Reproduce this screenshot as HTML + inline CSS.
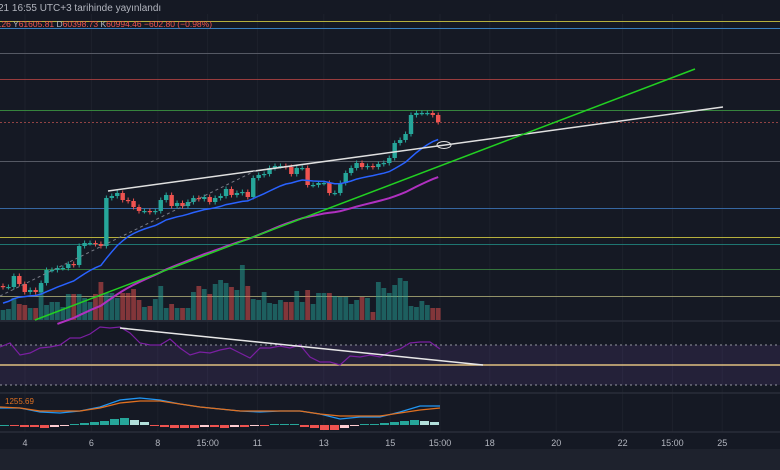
<!DOCTYPE html>
<html><head><meta charset="utf-8"><style>
html,body{margin:0;padding:0;background:#151924;width:780px;height:470px;overflow:hidden;font-family:"Liberation Sans","DejaVu Sans",sans-serif}
svg{display:block}
</style></head><body>
<svg id="chart" width="780" height="470" viewBox="0 0 780 470" xmlns="http://www.w3.org/2000/svg">
<rect x="0" y="0" width="780" height="470" fill="#151924"/>
<rect x="0" y="449" width="780" height="21" fill="#1e222d"/>
<g id="grid"></g>
<g id="hlines"></g>
<g id="volume"></g>
<g id="candles"></g>
<g id="mas"></g>
<g id="draw"></g>
<g id="rsi"></g>
<g id="macd"></g>
<g id="xaxis"></g>
<text x="-2" y="11" font-size="10" fill="#b2b5be">21 16:55 UTC+3 tarihinde yayınlandı</text>
<text x="-1" y="27" font-size="8.5" fill="#ef5350">.26 <tspan fill="#b2b5be">Y</tspan>61605.81 <tspan fill="#b2b5be">D</tspan>60398.73 <tspan fill="#b2b5be">K</tspan>60994.46 −602.80 (−0.98%)</text>
<text x="5" y="404" font-size="8" fill="#e07020">1255.69</text>
</svg>
<script>
const closes=[44300,44300,45400,44600,43800,44000,43800,44700,46000,46000,46200,46200,46600,46500,48400,48700,48700,48600,48400,53200,53400,53700,53000,52900,52300,51900,51900,51800,51900,53000,53500,52400,52700,52400,52800,53200,53100,53300,52800,53200,53400,54100,53500,53700,53800,53300,55200,55500,55600,56200,56400,56400,56300,55600,56200,56200,54500,54500,54700,54700,53700,53700,54700,55700,56200,56700,56300,56400,56300,56600,56700,57200,58700,59000,59600,61500,61700,61700,61700,61500,60800];
const volumes=[10,11,22,16,15,12,12,35,15,18,18,13,26,26,26,22,18,26,38,27,27,22,27,27,31,20,13,14,21,34,12,16,12,12,12,28,34,31,26,36,40,37,33,30,55,34,21,20,28,17,16,20,18,18,29,18,30,16,27,27,27,24,23,23,16,20,23,22,8,38,32,27,35,42,39,14,13,19,15,12,12];
const rsiVals=[68,72,60,62,67,68,70,77,77,81,88,87,88,82,72,70,70,76,67,60,63,62,65,67,62,57,67,67,69,67,70,58,53,53,50,59,58,60,58,63,66,72,73,73,66];
const macdLine=[17,17,13,12,14,18,25,27,25,21,18,16,14,13,14,14,11,6,8,8,13,19,19];
const signalLine=[18,17,14,14,14,17,22,24,24,21,18,16,14,14,14,14,11,9,9,9,12,15,17];
const macdHist=[0,-1,-2,-2,-3,-2,-1,1,2,3,4,6,7,5,3,-1,-2,-3,-3,-3,-2,-2,-3,-2,-2,-1,-1,1,1,1,-2,-3,-5,-5,-3,-1,1,1,2,3,4,5,4,3];
const dayLabels=["4","6","8","15:00","11","13","15","15:00","18","20","22","15:00","25"];
const dayPos=[0,2,4,5.5,7,9,11,12.5,14,16,18,19.5,21];
const levelPrices=[70900,70200,67700,65100,62000,60800,56900,52200,49300,48600,46100,43400];
const levelColors=["#c8c040","#3a8ad0","#5d606b","#a84040","#3a9040","#a04848","#5d606b","#3a70b0","#c8c040","#20807a","#3a8040","#a0a070"];

const NS="http://www.w3.org/2000/svg";
function el(tag,attrs,parent){const e=document.createElementNS(NS,tag);for(const k in attrs)e.setAttribute(k,attrs[k]);parent.appendChild(e);return e;}
const priceY=p=>(73000-p)/100;
const candleX=i=>3+i*5.44;
const dayX=d=>25+d*33.2;
const rsiY=v=>365-(v-50);
const macdY=v=>425-v;

// grid
const g=document.getElementById('grid');
[0,2,4,5.5,7,9,11,12.5,14,16,18,19.5,21].forEach(d=>{const l=el('line',{x1:dayX(d),x2:dayX(d),y1:14,y2:432,stroke:'#1d212c','stroke-width':1},g);

});
[[321,'#2a2e39'],[393,'#2a2e39'],[432,'#2a2e39']].forEach(a=>{const l=el('line',{x1:0,x2:780,y1:a[0],y2:a[0],stroke:a[1],'stroke-width':1.5},g);

});

// horizontal levels
const h=document.getElementById('hlines');
levelPrices.forEach((p,i)=>{const a={x1:0,x2:780,y1:priceY(p)+0.5,y2:priceY(p)+0.5,stroke:levelColors[i],'stroke-width':1,opacity:0.9};if(i===5){a['stroke-dasharray']='2,2';}
const l=el('line',a,h);

});

// volume
const v=document.getElementById('volume');
volumes.forEach((vol,i)=>{const o=i?closes[i-1]:closes[0];const up=closes[i]>=o;const r=el('rect',{x:candleX(i)-2.4,y:320-vol,width:4.8,height:vol,fill:up?'#26a69a':'#ef5350',opacity:0.5},v);

});

// candles
const c=document.getElementById('candles');
closes.forEach((cl,i)=>{const o=i?closes[i-1]:closes[0]+100;const up=cl>=o;const col=up?'#26a69a':'#ef5350';const x=candleX(i);
const hi=Math.max(o,cl)+250,lo=Math.min(o,cl)-250;
const w=el('line',{x1:x,x2:x,y1:priceY(hi),y2:priceY(lo),stroke:col,'stroke-width':1},c);


const top=priceY(Math.max(o,cl));const bh=Math.max(1.2,Math.abs(priceY(o)-priceY(cl)));
const b=el('rect',{x:x-2.2,y:top,width:4.4,height:bh,fill:col},c);

});

// moving averages
const m=document.getElementById('mas');
function ema(arr,n,seed){const a=2/(n+1);let e=seed;return arr.map(x=>(e=e+a*(x-e)));}
const ema1=ema(closes,18,42500),ema2=ema(closes,55,38500);
function pathFrom(vals,fx,fy){return vals.map((val,i)=>(i?'L':'M')+fx(i).toFixed(1)+' '+fy(val).toFixed(1)).join(' ');}
const p1=el('path',{d:pathFrom(ema1,candleX,priceY),fill:'none',stroke:'#2962ff','stroke-width':1.5},m);


const e2=ema2.slice(10);
const p2=el('path',{d:pathFrom(e2,i=>candleX(i+10),priceY),fill:'none',stroke:'#b030c0','stroke-width':2},m);



// drawings
const dr=document.getElementById('draw');
const t1=el('line',{x1:108,y1:191,x2:723,y2:107,stroke:'#e0e0e0','stroke-width':1.5},dr);


const t2=el('line',{x1:35,y1:320,x2:695,y2:69,stroke:'#22d022','stroke-width':1.5},dr);


const t3=el('line',{x1:0,y1:296,x2:257,y2:170,stroke:'#787b86','stroke-width':1,'stroke-dasharray':'3,3'},dr);


const t4=el('ellipse',{cx:444,cy:145,rx:7,ry:3.5,fill:'none',stroke:'#e0e0e0','stroke-width':1},dr);



// RSI
const r=document.getElementById('rsi');
const band=el('rect',{x:0,y:rsiY(70),width:780,height:rsiY(30)-rsiY(70),fill:'#7e57c2','fill-opacity':0.14},r);


[70,30].forEach(lv=>{const l=el('line',{x1:0,x2:780,y1:rsiY(lv),y2:rsiY(lv),stroke:'#9598a1','stroke-width':1,'stroke-dasharray':'2,3'},r);

});
const mid=el('line',{x1:0,x2:780,y1:rsiY(50),y2:rsiY(50),stroke:'#e0c080','stroke-width':1.5},r);


const rl=el('path',{d:pathFrom(rsiVals,i=>i*10,rsiY),fill:'none',stroke:'#7b1fa2','stroke-width':1.2},r);


const rt=el('line',{x1:120,y1:328,x2:483,y2:365,stroke:'#e8e8e8','stroke-width':1.5},r);



// MACD
const mc=document.getElementById('macd');
macdHist.forEach((hv,i)=>{const prev=i?macdHist[i-1]:0;let col;if(hv>=0)col=hv>=prev?'#26a69a':'#b2dfdb';else col=hv<=prev?'#ef5350':'#ffcdd2';
const y0=macdY(0),y1=macdY(hv);const hh=Math.max(1,Math.abs(y1-y0));
const b=el('rect',{x:i*10,y:Math.min(y0,y1),width:9,height:hh,fill:col},mc);

});
const ml=el('path',{d:pathFrom(macdLine,i=>i*20,macdY),fill:'none',stroke:'#2196f3','stroke-width':1.3},mc);


const sl=el('path',{d:pathFrom(signalLine,i=>i*20,macdY),fill:'none',stroke:'#e07020','stroke-width':1.3},mc);



// x axis
const xa=document.getElementById('xaxis');
dayLabels.forEach((lb,i)=>{const t=el('text',{x:dayX(dayPos[i]),y:446,'font-size':9,fill:'#b2b5be','text-anchor':'middle'},xa);t.textContent=lb;

});
</script>
</body></html>
